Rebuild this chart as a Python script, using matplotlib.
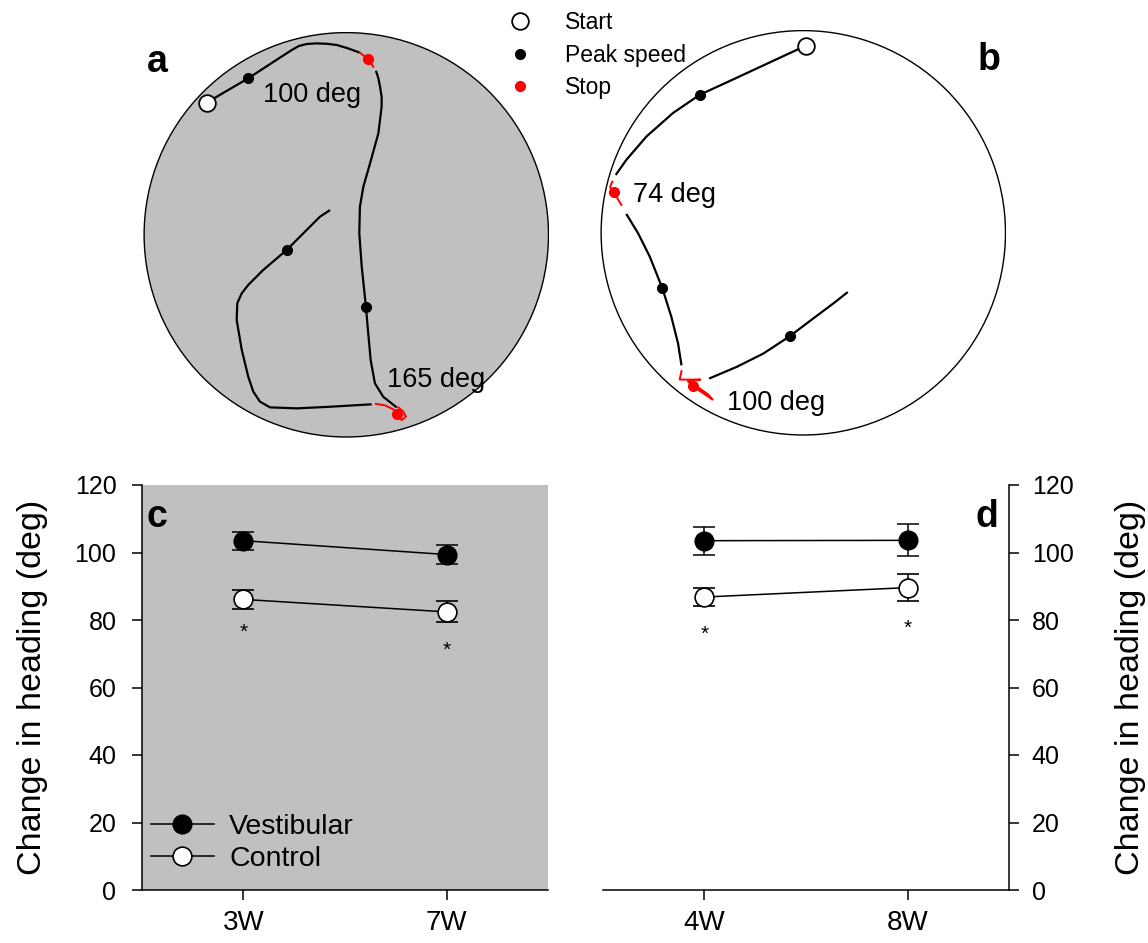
import matplotlib
matplotlib.use('Agg')
import matplotlib.pyplot as plt
from matplotlib.patches import Circle
from matplotlib.lines import Line2D

plt.rcParams['font.family'] = ['Liberation Sans', 'DejaVu Sans']

# ---------------- data: arena trajectories (arena radius = 100) ----------------
A_RUN1 = [(-68.8, 65.1), (-48.3, 77.1), (-29.4, 89.4), (-26.9, 91.0), (-23.4, 93.0),
          (-19.5, 94.0), (-14.6, 94.3), (-9.6, 94.1), (-4.7, 93.5), (1.0, 91.8), (6.7, 89.7)]
A_STOP1 = [(6.7, 89.7), (10.8, 86.5), (13.3, 82.8)]
A_RUN2 = [(14.6, 80.8), (15.8, 77.1), (16.6, 73.0), (17.4, 68.0), (17.4, 63.1), (15.8, 50.0),
          (11.7, 35.2), (8.4, 23.7), (6.7, 13.8), (6.4, 0.7), (7.6, -15.7), (9.7, -35.7),
          (10.8, -48.5), (12.0, -61.7), (14.1, -73.2), (18.2, -79.8), (24.8, -85.0)]
A_STOP2 = [(25.6, -85.0), (28.1, -87.1), (29.4, -89.6), (27.3, -91.2), (24.8, -89.6),
           (24.5, -87.9), (23.2, -86.0), (19.1, -84.0), (14.6, -83.3)]
A_RUN3 = [(12.5, -83.5), (-8.0, -84.7), (-24.4, -85.5), (-37.6, -85.0), (-42.5, -82.2),
          (-45.8, -77.3), (-48.3, -69.9), (-51.5, -56.7), (-54.0, -42.0), (-53.7, -33.7),
          (-51.5, -28.8), (-48.3, -24.7), (-40.9, -17.3), (-29.4, -7.5), (-19.5, 2.4),
          (-13.0, 8.9), (-8.0, 12.2)]
A_START = [(-68.8, 65.1)]
A_PEAKS = [(-48.3, 77.1), (9.7, -35.7), (-29.4, -7.5)]
A_STOPS = [(10.8, 86.5), (24.8, -88.2)]
A_TURNS = ['100 deg', '165 deg']
A_TURN_POS = [(-41.0, 65.6), (19.9, -74.8)]

B_RUN1 = [(1.3, 92.2), (-18.1, 83.2), (-36.2, 74.8), (-51.0, 68.0), (-64.2, 59.0),
          (-77.3, 47.4), (-87.2, 35.9), (-92.4, 28.5)]
B_STOP1 = [(-94.1, 25.2), (-95.1, 22.8), (-94.6, 20.3), (-93.4, 20.0), (-89.6, 13.7)]
B_RUN2 = [(-87.2, 9.3), (-81.4, -0.2), (-75.6, -11.8), (-69.4, -27.4), (-65.0, -41.4),
          (-61.7, -54.5), (-60.0, -65.3)]
B_STOP2 = [(-60.0, -68.1), (-60.9, -72.3), (-50.7, -72.3), (-56.9, -73.0), (-54.3, -75.6),
           (-44.7, -82.2), (-46.9, -79.6), (-52.6, -75.6), (-55.9, -73.5)]
B_RUN3 = [(-46.4, -71.8), (-32.9, -66.1), (-19.7, -59.5), (-6.6, -50.9), (4.9, -42.2),
          (14.8, -34.8), (21.9, -29.2)]
B_START = [(1.3, 92.2)]
B_PEAKS = [(-51.0, 68.0), (-69.4, -27.4), (-6.6, -50.9)]
B_STOPS = [(-93.4, 20.0), (-54.3, -75.6)]
B_TURNS = ['74 deg', '100 deg']
B_TURN_POS = [(-83.9, 15.4), (-37.8, -87.1)]

# ---------------- data: change in heading ----------------
C_GROUPS = ['3W', '7W']
C_VEST = [103.5, 99.4]
C_VEST_ERR = [2.7, 2.9]
C_CTRL = [86.1, 82.4]
C_CTRL_ERR = [2.7, 3.1]
C_STAR_Y = [78.0, 72.6]

D_GROUPS = ['4W', '8W']
D_VEST = [103.5, 103.6]
D_VEST_ERR = [4.2, 4.7]
D_CTRL = [86.8, 89.6]
D_CTRL_ERR = [2.7, 3.9]
D_STAR_Y = [77.5, 79.2]

Y_TICKS = [0, 20, 40, 60, 80, 100, 120]

# ---------------- figure ----------------
W, H = 1148, 943
fig = plt.figure(figsize=(W / 100, H / 100), dpi=100)


def px_axes(left, top, right, bottom):
    return fig.add_axes([left / W, 1 - bottom / H, (right - left) / W, (bottom - top) / H])


GRAY = '#c0c0c0'
RED = '#ff0000'


def xs(pts):
    return [p[0] for p in pts]


def ys(pts):
    return [p[1] for p in pts]


def arena(ax, face, runs, stops, start, peaks, stopdots, turns, turn_pos):
    ax.set_xlim(-100, 100)
    ax.set_ylim(-100, 100)
    ax.axis('off')
    ax.add_patch(Circle((0, 0), 99.6, facecolor=face, edgecolor='black', lw=1.0, zorder=1))
    for r in runs:
        ax.plot(xs(r), ys(r), color='black', lw=1.6, zorder=2, solid_capstyle='butt',
                solid_joinstyle='round')
    for s in stops:
        ax.plot(xs(s), ys(s), color=RED, lw=1.4, zorder=2)
    ax.plot(xs(peaks), ys(peaks), 'o', color='black', ms=7, zorder=3)
    ax.plot(xs(stopdots), ys(stopdots), 'o', color=RED, ms=7, zorder=3)
    ax.plot(xs(start), ys(start), 'o', mfc='white', mec='black', mew=1.3, ms=12, zorder=4)
    for t, p in zip(turns, turn_pos):
        ax.text(p[0], p[1], t, fontsize=19.5, ha='left', va='baseline', zorder=5)


ax_a = px_axes(143.3, 31.8, 549.3, 437.8)
arena(ax_a, GRAY, [A_RUN1, A_RUN2, A_RUN3], [A_STOP1, A_STOP2], A_START, A_PEAKS,
      A_STOPS, A_TURNS, A_TURN_POS)
ax_b = px_axes(600.3, 29.8, 1006.3, 435.8)
arena(ax_b, 'white', [B_RUN1, B_RUN2, B_RUN3], [B_STOP1, B_STOP2], B_START, B_PEAKS,
      B_STOPS, B_TURNS, B_TURN_POS)

# top legend
leg_handles = [
    Line2D([], [], ls='none', marker='o', mfc='white', mec='black', mew=1.3, ms=12),
    Line2D([], [], ls='none', marker='o', color='black', ms=7),
    Line2D([], [], ls='none', marker='o', color=RED, ms=7),
]
fig.legend(leg_handles, ['Start', 'Peak speed', 'Stop'], loc='upper left',
           bbox_to_anchor=(509 / W, 1 - 11 / H), frameon=False, fontsize=16.5,
           handlelength=1.0, handletextpad=1.45, labelspacing=0.42, borderpad=0,
           borderaxespad=0, numpoints=1)


def panel(ax, groups, vest, vest_err, ctrl, ctrl_err, star_y, side):
    x = list(range(len(groups)))
    ax.errorbar(x, vest, yerr=vest_err, fmt='-o', color='black', mfc='black', mec='black',
                ms=13.5, lw=1.1, elinewidth=1.1, capsize=8, capthick=1.1, zorder=3)
    ax.errorbar(x, ctrl, yerr=ctrl_err, fmt='-o', color='black', mfc='white', mec='black',
                mew=1.2, ms=13.5, lw=1.1, elinewidth=1.1, capsize=8, capthick=1.1, zorder=3)
    for xi, yi in zip(x, star_y):
        ax.annotate('*', xy=(xi, yi), xytext=(0, -4), textcoords='offset points',
                    ha='center', va='center', fontsize=15)
    ax.set_xlim(-0.5, 1.5)
    ax.set_ylim(0, 120)
    ax.set_xticks(x)
    ax.set_xticklabels(groups)
    ax.set_yticks(Y_TICKS)
    for s in ['top', side]:
        ax.spines[s].set_visible(False)
    for s in ax.spines.values():
        s.set_linewidth(1.1)
    ax.tick_params(axis='both', direction='out', length=7.2, width=1.1)
    ax.tick_params(axis='x', labelsize=20, pad=7.5)
    ax.set_ylabel('Change in heading (deg)', fontsize=24.5)


ax_c = px_axes(141.7, 485, 548.3, 890)
ax_c.set_facecolor(GRAY)
panel(ax_c, C_GROUPS, C_VEST, C_VEST_ERR, C_CTRL, C_CTRL_ERR, C_STAR_Y, 'right')
ax_c.tick_params(axis='y', labelsize=18, pad=11)
ax_c.yaxis.set_label_coords((48 - 141.7) / 406.6, 0.5)

c_handles = [
    Line2D([], [], color='black', lw=1.1, marker='o', mfc='black', mec='black', ms=13.5),
    Line2D([], [], color='black', lw=1.1, marker='o', mfc='white', mec='black', mew=1.2, ms=13.5),
]
ax_c.legend(c_handles, ['Vestibular', 'Control'], loc='lower left',
            bbox_to_anchor=((151 - 141.7) / 406.6, 0.045), frameon=False, fontsize=20.5,
            handlelength=2.2, handletextpad=0.55, labelspacing=0.2, borderpad=0,
            borderaxespad=0, numpoints=1)

ax_d = px_axes(602.7, 485, 1009.3, 890)
panel(ax_d, D_GROUPS, D_VEST, D_VEST_ERR, D_CTRL, D_CTRL_ERR, D_STAR_Y, 'left')
ax_d.yaxis.tick_right()
ax_d.yaxis.set_label_position('right')
ax_d.tick_params(axis='y', labelsize=18, pad=9)
ax_d.yaxis.set_label_coords((1115 - 602.7) / 406.6, 0.5)

# panel letters
for letter, (px, py) in zip('abcd', [(157, 62), (989, 60), (157, 517), (987, 517)]):
    fig.text(px / W, 1 - py / H, letter, fontsize=27, fontweight='bold',
             ha='center', va='center')

fig.savefig('out.png', dpi=100)
